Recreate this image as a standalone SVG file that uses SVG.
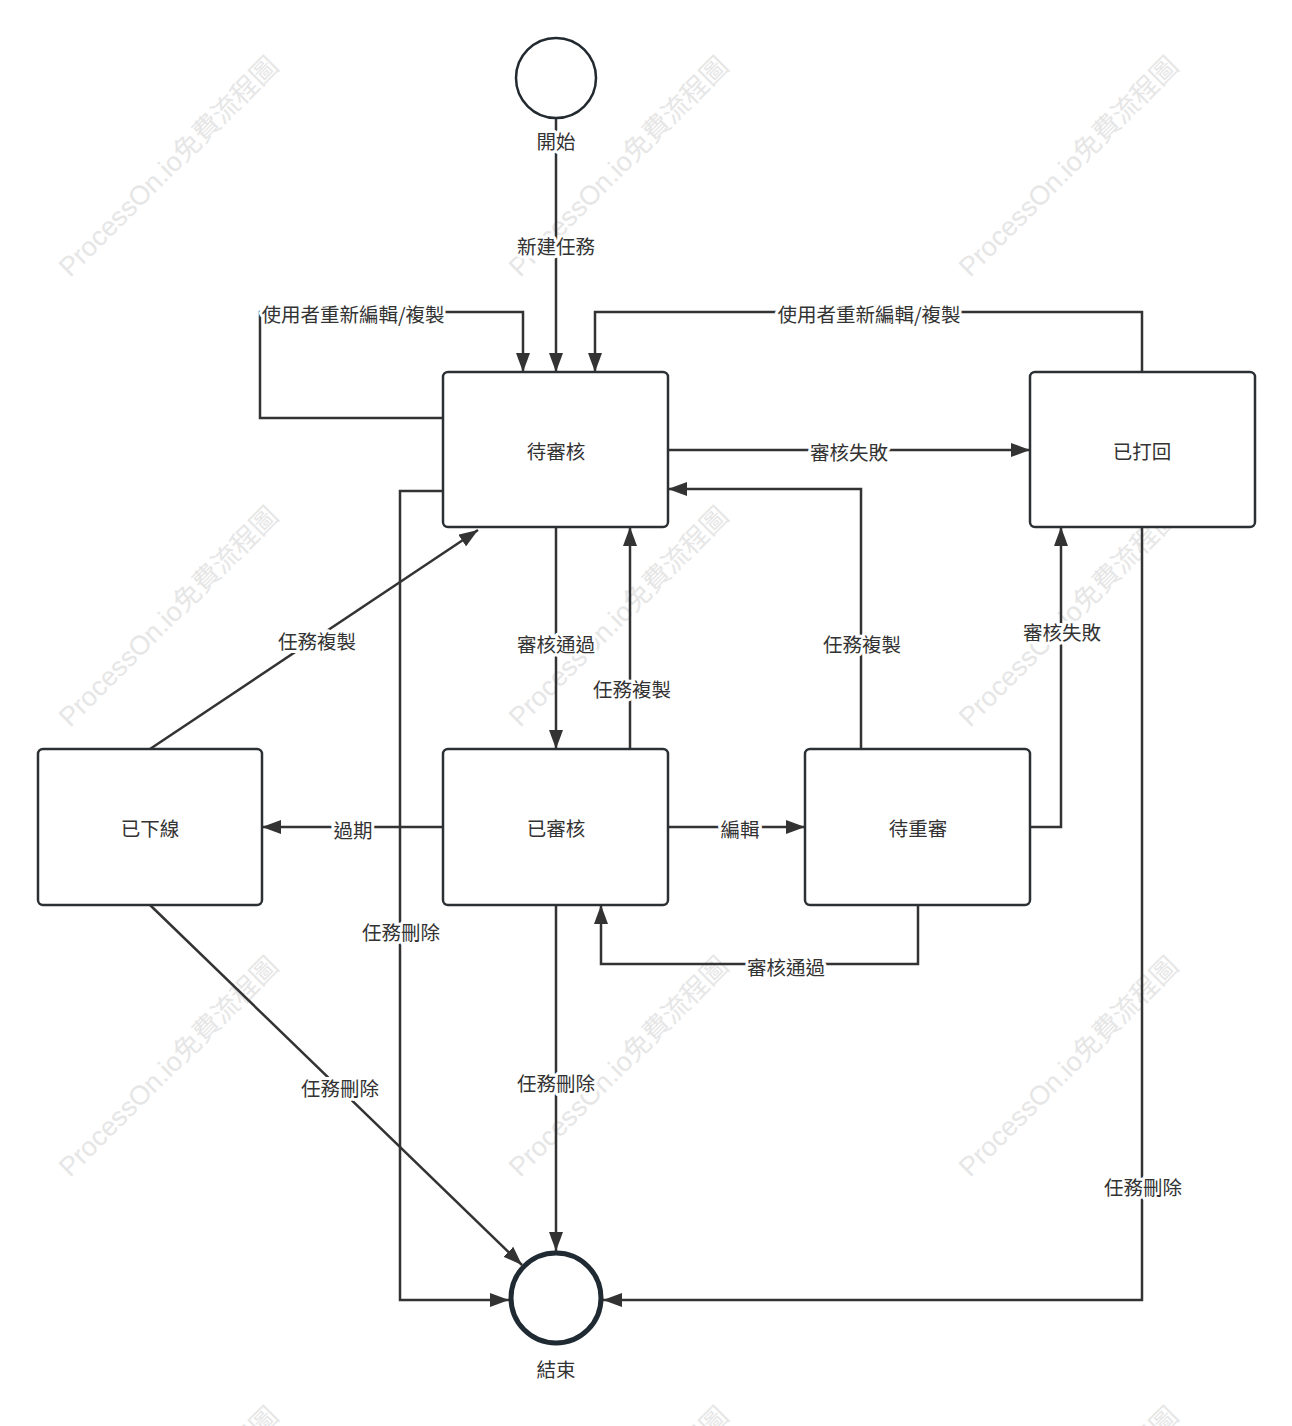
<svg xmlns="http://www.w3.org/2000/svg" width="1292" height="1426" viewBox="0 0 1292 1426">
<style>
.wm{font-family:"Liberation Sans","Noto Sans CJK TC",sans-serif;font-size:27px;fill:#e6e6e6}
.node rect{fill:#fff;stroke:#2b3035;stroke-width:2.5}
.nt{font-family:"Noto Sans CJK TC","Noto Sans CJK SC",sans-serif;font-size:19.5px;fill:#333;text-anchor:middle;dominant-baseline:central}
.edge path{fill:none;stroke:#333;stroke-width:2.5}
.lbl{font-family:"Noto Sans CJK TC","Noto Sans CJK SC",sans-serif;font-size:19.5px;fill:#333;text-anchor:middle;dominant-baseline:central;paint-order:stroke;stroke:#fff;stroke-width:6px;stroke-linejoin:round}
</style>
<defs>
<marker id="ah" markerUnits="userSpaceOnUse" markerWidth="20" markerHeight="14" refX="19" refY="7" orient="auto">
<path d="M0,0 L19,7 L0,14 z" fill="#333"/>
</marker>
</defs>
<rect width="1292" height="1426" fill="#fff"/>
<g id="watermarks">
<text class="wm" transform="translate(70,278) rotate(-45)">ProcessOn.io免費流程圖</text>
<text class="wm" transform="translate(520,278) rotate(-45)">ProcessOn.io免費流程圖</text>
<text class="wm" transform="translate(970,278) rotate(-45)">ProcessOn.io免費流程圖</text>
<text class="wm" transform="translate(70,728) rotate(-45)">ProcessOn.io免費流程圖</text>
<text class="wm" transform="translate(520,728) rotate(-45)">ProcessOn.io免費流程圖</text>
<text class="wm" transform="translate(970,728) rotate(-45)">ProcessOn.io免費流程圖</text>
<text class="wm" transform="translate(70,1178) rotate(-45)">ProcessOn.io免費流程圖</text>
<text class="wm" transform="translate(520,1178) rotate(-45)">ProcessOn.io免費流程圖</text>
<text class="wm" transform="translate(970,1178) rotate(-45)">ProcessOn.io免費流程圖</text>
<text class="wm" transform="translate(70,1628) rotate(-45)">ProcessOn.io免費流程圖</text>
<text class="wm" transform="translate(520,1628) rotate(-45)">ProcessOn.io免費流程圖</text>
<text class="wm" transform="translate(970,1628) rotate(-45)">ProcessOn.io免費流程圖</text>
</g>
<g id="connectors" class="edge">
<path d="M556,118 V372" marker-end="url(#ah)"/>
<path d="M443,418 H260 V312 H523 V372" marker-end="url(#ah)"/>
<path d="M1142,372 V312 H595 V372" marker-end="url(#ah)"/>
<path d="M668,450 H1030" marker-end="url(#ah)"/>
<path d="M556,527 V749" marker-end="url(#ah)"/>
<path d="M630,749 V527" marker-end="url(#ah)"/>
<path d="M861,749 V489 H668" marker-end="url(#ah)"/>
<path d="M1030,827 H1061 V527" marker-end="url(#ah)"/>
<path d="M668,827 H805" marker-end="url(#ah)"/>
<path d="M918,905 V964 H601 V905" marker-end="url(#ah)"/>
<path d="M443,827 H262" marker-end="url(#ah)"/>
<path d="M150,749 L478,530" marker-end="url(#ah)"/>
<path d="M150,905 L522,1265" marker-end="url(#ah)"/>
<path d="M443,491 H400 V1300 H509" marker-end="url(#ah)"/>
<path d="M556,905 V1251" marker-end="url(#ah)"/>
<path d="M1142,527 V1300 H603" marker-end="url(#ah)"/>
<text class="lbl" x="556" y="245">新建任務</text>
<text class="lbl" x="353" y="313">使用者重新編輯/複製</text>
<text class="lbl" x="869" y="313">使用者重新編輯/複製</text>
<text class="lbl" x="849" y="451">審核失敗</text>
<text class="lbl" x="556" y="643">審核通過</text>
<text class="lbl" x="632" y="688">任務複製</text>
<text class="lbl" x="862" y="643">任務複製</text>
<text class="lbl" x="1062" y="631">審核失敗</text>
<text class="lbl" x="740" y="828">編輯</text>
<text class="lbl" x="786" y="966">審核通過</text>
<text class="lbl" x="353" y="829">過期</text>
<text class="lbl" x="317" y="640">任務複製</text>
<text class="lbl" x="340" y="1087">任務刪除</text>
<text class="lbl" x="401" y="931">任務刪除</text>
<text class="lbl" x="556" y="1082">任務刪除</text>
<text class="lbl" x="1143" y="1186">任務刪除</text>
</g>
<g id="start">
<circle cx="556" cy="78" r="40" fill="#fff" stroke="#222a30" stroke-width="2.5"/>
<text class="lbl" x="556" y="140">開始</text>
</g>
<g id="end">
<circle cx="556" cy="1298" r="45" fill="#fff" stroke="#1f2a33" stroke-width="5"/>
<text class="nt" x="556" y="1368">結束</text>
</g>
<g id="pending" class="node"><rect x="443" y="372" width="225" height="155" rx="5"/><text class="nt" x="556" y="450">待審核</text></g>
<g id="rejected" class="node"><rect x="1030" y="372" width="225" height="155" rx="5"/><text class="nt" x="1142" y="450">已打回</text></g>
<g id="offline" class="node"><rect x="38" y="749" width="224" height="156" rx="5"/><text class="nt" x="150" y="827">已下線</text></g>
<g id="approved" class="node"><rect x="443" y="749" width="225" height="156" rx="5"/><text class="nt" x="556" y="827">已審核</text></g>
<g id="rereview" class="node"><rect x="805" y="749" width="225" height="156" rx="5"/><text class="nt" x="918" y="827">待重審</text></g>
</svg>
